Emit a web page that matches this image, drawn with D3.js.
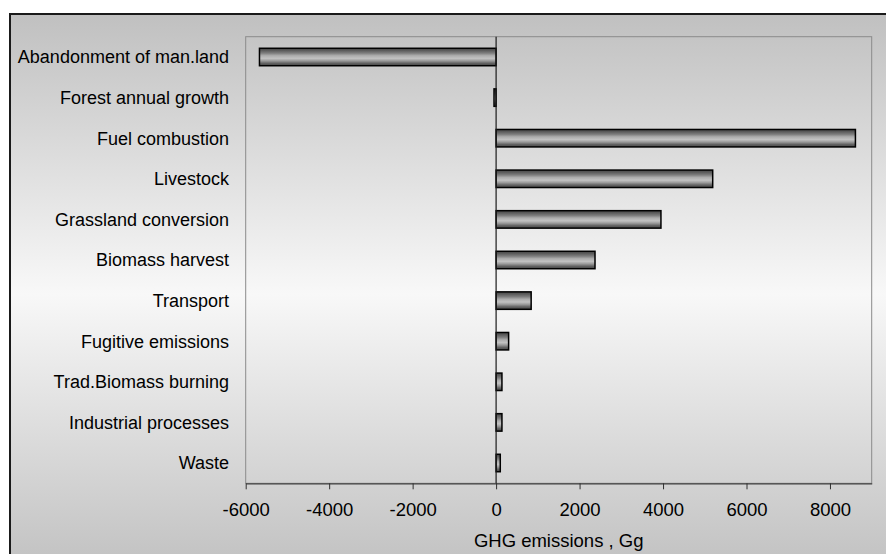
<!DOCTYPE html>
<html>
<head>
<meta charset="utf-8">
<script src="https://cdn.jsdelivr.net/npm/d3@7"></script>
<style>
  html, body { margin: 0; padding: 0; background: #ffffff; }
  svg { display: block; }
  text { font-family: "Liberation Sans", Arial, sans-serif; fill: #000; }
</style>
</head>
<body>
<script>
// GHG emissions by source, Gg
const categories = [
  "Abandonment of man.land",
  "Forest annual growth",
  "Fuel combustion",
  "Livestock",
  "Grassland conversion",
  "Biomass harvest",
  "Transport",
  "Fugitive emissions",
  "Trad.Biomass burning",
  "Industrial processes",
  "Waste"
];
const emissions = [-5670, -50, 8610, 5190, 3950, 2370, 840, 300, 140, 140, 100];
const xTicks = [-6000, -4000, -2000, 0, 2000, 4000, 6000, 8000];
const xDomain = [-6000, 9000];
const axisTitle = "GHG emissions , Gg";

const W = 886, H = 554;
const plot = { left: 245.7, right: 871.7, top: 36.7, bottom: 483.3 };

const svg = d3.select("body").append("svg")
  .attr("width", W).attr("height", H);

const defs = svg.append("defs");

// chart-area background: grey at the edges, pale in the middle
const bg = defs.append("linearGradient")
  .attr("id", "bgGrad").attr("x1", 0).attr("y1", 0).attr("x2", 0).attr("y2", 1);
[[0, "#c0c0c0"], [0.5, "#f8f8f8"], [1, "#c0c0c0"]].forEach(([o, c]) =>
  bg.append("stop").attr("offset", o).attr("stop-color", c));

// cylinder shading for the bars
const barGrad = defs.append("linearGradient")
  .attr("id", "barGrad").attr("x1", 0).attr("y1", 0).attr("x2", 0).attr("y2", 1);
[[0, "#484848"], [0.12, "#5a5a5a"], [0.28, "#7e7e7e"], [0.42, "#acacac"],
 [0.58, "#c2c2c2"], [0.72, "#9a9a9a"], [0.86, "#626262"], [1, "#484848"]]
  .forEach(([o, c]) => barGrad.append("stop").attr("offset", o).attr("stop-color", c));

// outer frame
svg.append("rect")
  .attr("x", 10).attr("y", 14)
  .attr("width", W + 20).attr("height", H - 14 + 20)
  .attr("fill", "url(#bgGrad)")
  .attr("stroke", "#1a1a1a").attr("stroke-width", 2);

const x = d3.scaleLinear().domain(xDomain).range([plot.left, plot.right]);
const y = d3.scaleBand().domain(categories)
  .range([plot.top, plot.bottom])
  .paddingInner(0.57).paddingOuter(0.285);

// plot-area border
svg.append("rect")
  .attr("x", plot.left).attr("y", plot.top)
  .attr("width", plot.right - plot.left).attr("height", plot.bottom - plot.top)
  .attr("fill", "none").attr("stroke", "#8a8a8a").attr("stroke-width", 1);

// bars
svg.append("g").selectAll("rect")
  .data(categories.map((c, i) => ({ c, v: emissions[i] })))
  .join("rect")
  .attr("x", d => Math.min(x(0), x(d.v)))
  .attr("y", d => y(d.c))
  .attr("width", d => Math.abs(x(d.v) - x(0)))
  .attr("height", y.bandwidth())
  .attr("fill", "url(#barGrad)")
  .attr("stroke", "#000").attr("stroke-width", 1.5);

// value axis with ticks below the plot; plain hyphen for negatives
const xAxis = svg.append("g")
  .attr("transform", `translate(0,${plot.bottom})`)
  .call(d3.axisBottom(x).tickValues(xTicks).tickSize(6).tickSizeOuter(0).tickPadding(14)
    .tickFormat(d => String(d)));
xAxis.select(".domain").attr("stroke", "#404040").attr("stroke-width", 1.2);
xAxis.selectAll(".tick line").attr("stroke", "#303030");
xAxis.selectAll(".tick text")
  .attr("font-size", 18.5).attr("font-family", "Liberation Sans, Arial, sans-serif")
  .attr("fill", "#000");

// zero line across the plot
svg.append("line")
  .attr("x1", x(0)).attr("x2", x(0))
  .attr("y1", plot.top).attr("y2", plot.bottom)
  .attr("stroke", "#1a1a1a").attr("stroke-width", 1.2);

// category labels
svg.append("g").selectAll("text")
  .data(categories)
  .join("text")
  .attr("x", 229)
  .attr("y", d => y(d) + y.bandwidth() / 2)
  .attr("dy", "0.36em")
  .attr("text-anchor", "end")
  .attr("font-size", 18)
  .text(d => d);

// axis title
svg.append("text")
  .attr("x", (plot.left + plot.right) / 2)
  .attr("y", 547)
  .attr("text-anchor", "middle")
  .attr("font-size", 18.5)
  .text(axisTitle);
</script>
</body>
</html>
